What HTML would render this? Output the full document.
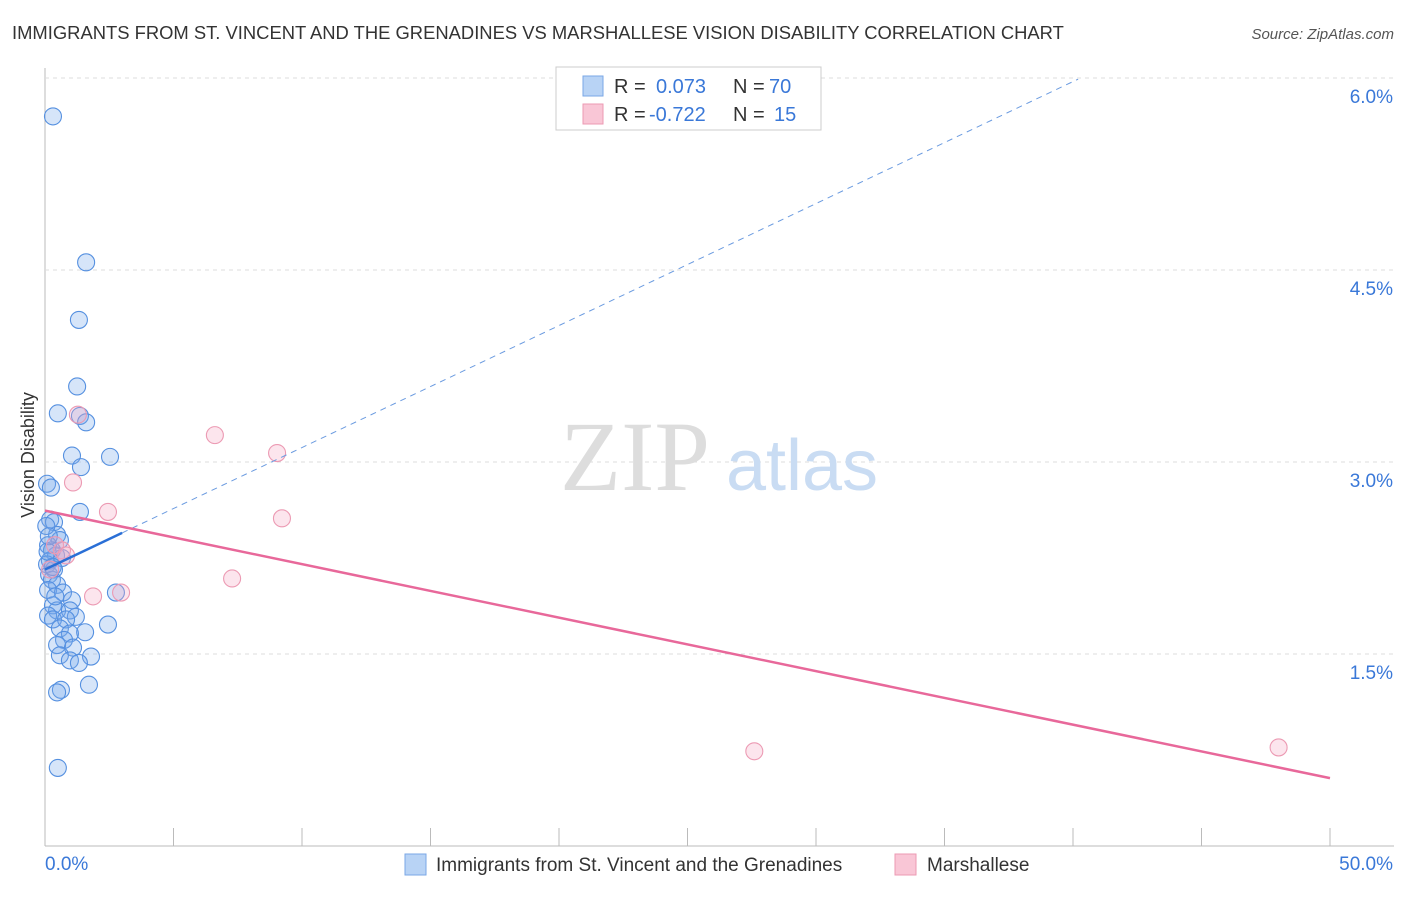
<!DOCTYPE html>
<html><head><meta charset="utf-8"><style>
body{margin:0;background:#fff;font-family:"Liberation Sans",sans-serif}
</style></head><body>
<svg width="1406" height="892" viewBox="0 0 1406 892" font-family="Liberation Sans, sans-serif">
<text x="12" y="39" font-size="18.4" fill="#333">IMMIGRANTS FROM ST. VINCENT AND THE GRENADINES VS MARSHALLESE VISION DISABILITY CORRELATION CHART</text>
<text x="1394" y="39" font-size="15" fill="#555" text-anchor="end" font-style="italic">Source: ZipAtlas.com</text>
<g id="grid"></g>
<text x="635" y="490" font-size="100" fill="#ddd" text-anchor="middle" style="font-family:'Liberation Serif',serif">ZIP</text>
<text x="802" y="490" font-size="72" fill="#c9dcf3" text-anchor="middle">atlas</text>
<g id="marks"></g>
<text x="34" y="455" font-size="18" fill="#333" text-anchor="middle" transform="rotate(-90 34 455)">Vision Disability</text>
<g font-size="20">
<rect x="556" y="67" width="265" height="63" fill="#fff" stroke="#ccc"/>
<rect x="583" y="76" width="20" height="20" fill="#b8d3f5" stroke="#7aa7e6"/>
<rect x="583" y="104" width="20" height="20" fill="#f9c6d6" stroke="#ec9ab3"/>
<text x="614" y="93" fill="#333">R =</text>
<text x="656" y="93" fill="#3a78d8">0.073</text>
<text x="733" y="93" fill="#333">N =</text>
<text x="769" y="93" fill="#3a78d8">70</text>
<text x="614" y="121" fill="#333">R =</text>
<text x="649" y="121" fill="#3a78d8">-0.722</text>
<text x="733" y="121" fill="#333">N =</text>
<text x="774" y="121" fill="#3a78d8">15</text>
</g>
<g>
<rect x="405" y="854" width="21" height="21" fill="#b8d3f5" stroke="#7aa7e6"/>
<text x="436" y="871" font-size="19" fill="#333">Immigrants from St. Vincent and the Grenadines</text>
<rect x="895" y="854" width="21" height="21" fill="#f9c6d6" stroke="#ec9ab3"/>
<text x="927" y="871" font-size="19" fill="#333">Marshallese</text>
</g>
</svg>
<script>
const yTicks=[1.5,3.0,4.5,6.0];
const yTickLabels=["1.5%","3.0%","4.5%","6.0%"];
const xEndLabels=["0.0%","50.0%"];
const blueX=[0.31,1.6,1.32,1.25,0.5,1.36,1.6,1.05,1.4,2.53,0.08,0.23,1.36,0.2,0.35,0.47,0.58,0.12,0.27,0.43,0.19,0.66,0.08,0.35,0.16,0.27,0.47,0.12,0.7,2.76,1.05,0.31,0.47,0.97,0.12,1.2,0.31,0.82,2.45,0.58,1.56,0.97,0.74,0.47,1.09,0.58,1.79,0.97,1.32,0.62,0.47,1.71,0.5,0.05,0.1,0.3,0.15,0.4];
const blueY=[5.70,4.56,4.11,3.59,3.38,3.36,3.31,3.05,2.96,3.04,2.83,2.80,2.61,2.55,2.53,2.43,2.39,2.35,2.31,2.27,2.23,2.25,2.20,2.16,2.12,2.08,2.04,2.00,1.98,1.98,1.92,1.88,1.84,1.84,1.80,1.79,1.77,1.77,1.73,1.70,1.67,1.66,1.61,1.57,1.55,1.49,1.48,1.45,1.43,1.22,1.20,1.26,0.61,2.5,2.3,2.18,2.42,1.95];
const pinkX=[6.61,9.03,9.22,7.28,2.45,1.09,1.28,1.87,2.96,27.6,48.0,0.39,0.66,0.2,0.82];
const pinkY=[3.21,3.07,2.56,2.09,2.61,2.84,3.37,1.95,1.98,0.74,0.77,2.35,2.31,2.16,2.27];
const blueFit=[2.16,0.0953];
const pinkFit=[2.62,-0.0418];
const X=v=>45+v/50*1285, Y=v=>846-v*128;
const NS="http://www.w3.org/2000/svg";
const grid=document.getElementById('grid'),marks=document.getElementById('marks');
function mk(p,tag,a){const e=document.createElementNS(NS,tag);for(const k in a)e.setAttribute(k,a[k]);p.appendChild(e);return e;}
let ax=mk(grid,'line',{x1:45,y1:68,x2:45,y2:846,stroke:'#bbb'});


let bx=mk(grid,'line',{x1:45,y1:846,x2:1394,y2:846,stroke:'#bbb'});


yTicks.forEach((t,i)=>{
 const g=mk(grid,'line',{x1:45,y1:Y(t),x2:1394,y2:Y(t),stroke:'#ddd','stroke-dasharray':'4,4'});
 
 
 const l=mk(grid,'text',{x:1393,y:Y(t)+25,'font-size':19,fill:'#3a78d8','text-anchor':'end'});
 l.textContent=yTickLabels[i];
 
 
});
for(let v=0;v<=50;v+=5){
 const t=mk(grid,'line',{x1:X(v),y1:828,x2:X(v),y2:846,stroke:'#bbb'});
 
 
}
[[0,45,'start'],[1,1393,'end']].forEach(([i,x,a])=>{
 const l=mk(grid,'text',{x:x,y:870,'font-size':19,fill:'#3a78d8','text-anchor':a});
 l.textContent=xEndLabels[i];
 
 
});
blueX.forEach((x,i)=>{
 const c=mk(marks,'circle',{cx:X(x),cy:Y(blueY[i]),r:8.5,fill:'rgba(120,170,235,0.3)',stroke:'#5590e0','stroke-width':1.1});
 
 
});
pinkX.forEach((x,i)=>{
 const c=mk(marks,'circle',{cx:X(x),cy:Y(pinkY[i]),r:8.5,fill:'rgba(245,170,195,0.3)',stroke:'#ec9ab3','stroke-width':1.1});
 
 
});
const bd=mk(marks,'line',{x1:X(3),y1:Y(blueFit[0]+blueFit[1]*3),x2:X(40.2),y2:Y(blueFit[0]+blueFit[1]*40.2),stroke:'#6b9be0','stroke-width':1,'stroke-dasharray':'6,5'});


const bl=mk(marks,'line',{x1:X(0),y1:Y(blueFit[0]),x2:X(3),y2:Y(blueFit[0]+blueFit[1]*3),stroke:'#2a6fd6','stroke-width':2.5});


const pl=mk(marks,'line',{x1:X(0),y1:Y(pinkFit[0]),x2:X(50),y2:Y(pinkFit[0]+pinkFit[1]*50),stroke:'#e8689a','stroke-width':2.5});


</script>
</body></html>
